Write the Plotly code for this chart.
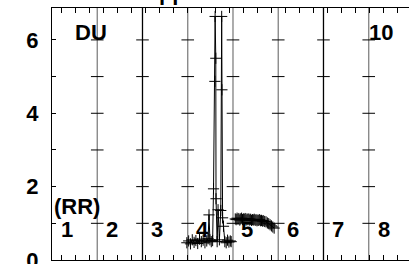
import plotly.graph_objects as go

# ---- data ----
clusterA_x = [2.98, 3.02, 3.06, 3.10, 3.14, 3.18, 3.22, 3.26, 3.30, 3.34, 3.38, 3.42, 3.45, 3.47,
              3.49, 3.52, 3.55, 3.57, 3.60, 3.605, 3.62, 3.625, 3.65, 3.67, 3.70, 3.73, 3.75,
              3.755, 3.77, 3.79, 3.82, 3.85, 3.88, 3.91, 3.94, 3.96]
clusterA_y = [0.47, 0.52, 0.44, 0.55, 0.48, 0.53, 0.45, 0.57, 0.50, 0.54, 0.47, 0.52, 0.58, 1.23,
              0.55, 0.50, 0.53, 1.94, 4.87, 6.64, 5.50, 1.67, 0.50, 1.37, 0.55, 1.35, 6.64,
              4.64, 1.15, 0.92, 0.50, 0.47, 0.54, 0.49, 0.52, 0.50]

clusterB_x = [4.05, 4.07, 4.09, 4.11, 4.13, 4.15, 4.17, 4.19, 4.21, 4.23, 4.25, 4.27, 4.29, 4.31,
              4.33, 4.35, 4.37, 4.39, 4.41, 4.43, 4.45, 4.47, 4.49, 4.51, 4.53, 4.55, 4.57, 4.59,
              4.61, 4.63, 4.65, 4.67, 4.70, 4.73, 4.76, 4.79, 4.82, 4.85, 4.88, 4.91]
clusterB_y = [1.12, 1.10, 1.14, 1.11, 1.13, 1.09, 1.12, 1.14, 1.10, 1.12, 1.11, 1.13, 1.09, 1.12,
              1.10, 1.12, 1.09, 1.11, 1.08, 1.10, 1.09, 1.11, 1.08, 1.10, 1.07, 1.09, 1.08, 1.10,
              1.07, 1.08, 1.06, 1.07, 1.05, 1.04, 1.01, 0.99, 0.96, 0.93, 0.90, 0.87]

grid_x = [1, 2, 3, 4, 5, 6, 7]
grid_color = ["#808080", "#000000", "#808080", "#808080", "#808080", "#000000", "#808080"]
cross_y = [1, 2, 3, 4, 5, 6]

y_tickvals = [0, 1, 2, 3, 4, 5, 6]
y_ticktext = ["<b>0</b>", "", "<b>2</b>", "", "<b>4</b>", "", "<b>6</b>"]

panel_labels = ["1", "2", "3", "4", "5", "6", "7", "8"]
panel_label_x = [0.33, 1.33, 2.33, 3.33, 4.32, 5.32, 6.32, 7.34]
panel_label_y = 0.83
extra_labels = ["(RR)", "DU", "10"]
extra_label_x = [0.56, 0.87, 7.27]
extra_label_y = [1.45, 6.2, 6.2]

FONT = "Liberation Sans, Arial, sans-serif"

fig = go.Figure()

# vertical grid lines
for gx, gc in zip(grid_x, grid_color):
    fig.add_shape(type="line", xref="x", yref="paper", x0=gx, x1=gx, y0=0, y1=1,
                  line=dict(color=gc, width=1.3), layer="below")

# horizontal tick crosses on each grid line
cx, cy = [], []
for gx in grid_x:
    for v in cross_y:
        cx.append(gx)
        cy.append(v)
fig.add_trace(go.Scatter(x=cx, y=cy, mode="markers", hoverinfo="skip",
                         marker=dict(symbol="line-ew", size=9,
                                     line=dict(color="black", width=1))))

# data
for xs, ys in [(clusterA_x, clusterA_y), (clusterB_x, clusterB_y)]:
    fig.add_trace(go.Scatter(x=xs, y=ys, mode="lines+markers",
                             line=dict(color="black", width=1),
                             marker=dict(symbol="cross-thin", size=8,
                                         line=dict(color="black", width=1))))

# labels
for t, lx in zip(panel_labels, panel_label_x):
    fig.add_annotation(x=lx, y=panel_label_y, xref="x", yref="y", text="<b>%s</b>" % t,
                       showarrow=False, font=dict(family=FONT, size=22, color="black"))
for t, lx, ly in zip(extra_labels, extra_label_x, extra_label_y):
    fig.add_annotation(x=lx, y=ly, xref="x", yref="y", text="<b>%s</b>" % t,
                       showarrow=False, font=dict(family=FONT, size=22, color="black"))

# cut-off title fragment (only descenders visible at top edge)
pw = 409 - 52
ph = 264 - 12
fig.add_annotation(x=(141 - 52) / pw, y=(252 + 8 + 2 - 9) / ph, xref="paper", yref="paper",
                   text="<b>Upper</b>", showarrow=False, xanchor="left", yanchor="bottom",
                   font=dict(family=FONT, size=22, color="black"))

fig.update_layout(
    width=409, height=264,
    margin=dict(l=52, r=0, t=8, b=4, autoexpand=False),
    paper_bgcolor="white", plot_bgcolor="white",
    showlegend=False,
    font=dict(family=FONT, size=22, color="black"),
    xaxis=dict(range=[0, 7.89], showgrid=False, zeroline=False, automargin=False,
               showline=True, linecolor="black", linewidth=1, mirror="ticks",
               ticks="inside", ticklen=5, tickcolor="black", tick0=0.2, dtick=0.31,
               showticklabels=False),
    yaxis=dict(range=[0, 6.87], showgrid=False, zeroline=False, automargin=False,
               showline=True, linecolor="black", linewidth=1,
               ticks="inside", ticklen=4, tickcolor="black",
               tickvals=y_tickvals, ticktext=y_ticktext,
               tickfont=dict(family=FONT, size=22, color="black"),
               ticklabelstandoff=8, ticklabeloverflow="allow"),
)

fig.write_html("out.html", config={"displayModeBar": False},
               post_script="document.body.style.margin='0px';document.body.style.overflow='hidden';")
